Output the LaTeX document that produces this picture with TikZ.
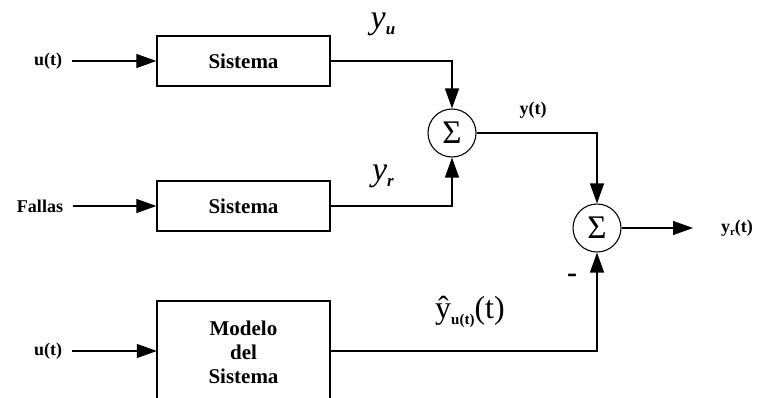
\documentclass[tikz,border=0pt]{standalone}
\usepackage{fontspec}
\setmainfont{Liberation Serif}
\usetikzlibrary{arrows.meta}
\begin{document}
\begin{tikzpicture}[x=1pt,y=-1pt,
  blk/.style={draw,line width=1.3pt,minimum width=173pt,minimum height=50pt,inner sep=0pt,font=\fontsize{21}{22}\selectfont\bfseries},
  sumc/.style={draw,circle,line width=1.1pt,minimum size=48pt,inner sep=0pt,font=\fontsize{33}{33}\selectfont},
  lbl/.style={font=\fontsize{18}{19}\selectfont\bfseries},
  big/.style={font=\fontsize{34}{34}\selectfont\itshape},
  wire/.style={line width=1.2pt},
  arr/.style={wire,-{Triangle[length=20pt,width=14pt]}}]
\useasboundingbox (0,0) rectangle (763,397);
\node[lbl] (u1) at (48,61) {u(t)};
\node[lbl] (f) at (40,206) {Fallas};
\node[lbl] (u3) at (48,351) {u(t)};
\node[blk] (s1) at (243.5,61) {Sistema};
\node[blk] (s2) at (243.5,206) {Sistema};
\draw[line width=1.3pt] (157,401) -- (157,301) -- (330,301) -- (330,401);
\node[inner sep=0pt,minimum width=173pt,minimum height=100pt] (m) at (243.5,351) {};
\node[align=center,font=\fontsize{21}{24}\selectfont\bfseries] (mt) at (243.5,352) {Modelo\\del\\Sistema};
\node[sumc] (c1) at (452,133) {\raisebox{1pt}{Σ}};
\node[sumc] (c2) at (597,228) {\raisebox{1pt}{Σ}};
\coordinate (yo) at (693,228);
\node[lbl] (yr) at (737,228) {y\raisebox{-3pt}{\fontsize{11}{11}\selectfont r}(t)};
\node[lbl] (yt) at (533,110) {y(t)};
\node[big] (yu) at (383,24) {y\raisebox{-6pt}{\fontsize{17}{17}\selectfont\bfseries u}};
\node[big] (yrr) at (383,176) {y\raisebox{-6pt}{\fontsize{17}{17}\selectfont\bfseries r}};
\node[font=\fontsize{32}{32}\selectfont] (yh) at (470,312) {\^{y}\raisebox{-6pt}{\fontsize{15}{15}\selectfont\bfseries u(t)}(t)};
\node[font=\fontsize{30}{30}\selectfont\bfseries] (minus) at (572,278) {-};
\draw[arr] ([xshift=6pt]u1.east) -- (s1.west);
\draw[arr] ([xshift=6pt]f.east) -- (s2.west);
\draw[arr] ([xshift=6pt]u3.east) -- (m.west);
\draw[arr] (s1.east) -| (c1.north);
\draw[arr] (s2.east) -| (c1.south);
\draw[arr] (c1.east) -| (c2.north);
\draw[arr] (m.east) -| (c2.south);
\draw[arr] (c2.east) -- (yo);
\end{tikzpicture}
\end{document}
